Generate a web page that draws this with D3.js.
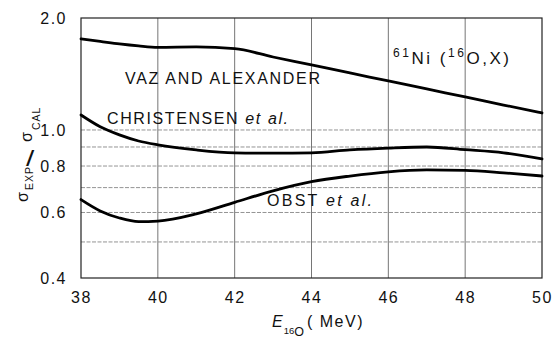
<!DOCTYPE html>
<html><head><meta charset="utf-8">
<script src="https://cdn.jsdelivr.net/npm/d3@7"></script>
<style>body{margin:0;background:#fff} svg{display:block}</style>
</head><body>
<script>
// ---- data ----
const energies = [38, 38.5, 39, 39.5, 40, 41, 42, 43, 44, 45, 46, 47, 48, 49, 50];
const vazValues = [1.757, 1.730, 1.703, 1.682, 1.668, 1.672, 1.655, 1.571, 1.496, 1.423, 1.355, 1.289, 1.227, 1.167, 1.111];
const christensenValues = [1.097, 1.020, 0.970, 0.934, 0.912, 0.884, 0.868, 0.866, 0.868, 0.884, 0.894, 0.900, 0.885, 0.868, 0.836];
const obstValues = [0.650, 0.606, 0.580, 0.567, 0.569, 0.595, 0.639, 0.686, 0.726, 0.752, 0.772, 0.781, 0.779, 0.767, 0.752];
const xTicks = [38, 40, 42, 44, 46, 48, 50];
const xGrid = [40, 42, 44, 46, 48];
const yTicks = [0.4, 0.6, 0.8, 1.0, 2.0];
const yGrid = [0.5, 0.6, 0.7, 0.8, 0.9, 1.0];

const W = 552, H = 338;
const margin = {left: 81, right: 10, top: 18, bottom: 60};
const FONT = "'Liberation Sans', Arial, Helvetica, sans-serif";

const svg = d3.select("body").append("svg").attr("width", W).attr("height", H)
  .style("font-family", FONT);

const x = d3.scaleLinear().domain([38, 50]).range([margin.left, W - margin.right]);
const y = d3.scaleLog().domain([0.4, 2.0]).range([H - margin.bottom, margin.top]);

// grid
svg.append("g").selectAll("line").data(xGrid).join("line")
  .attr("x1", d => x(d)).attr("x2", d => x(d))
  .attr("y1", y(2.0)).attr("y2", y(0.4))
  .attr("stroke", "#666").attr("stroke-width", 0.9);
svg.append("g").selectAll("line").data(yGrid).join("line")
  .attr("x1", x(38)).attr("x2", x(50))
  .attr("y1", d => y(d)).attr("y2", d => y(d))
  .attr("stroke", "#888").attr("stroke-width", 0.9).attr("stroke-dasharray", "4,1.5");

// frame
svg.append("rect").attr("x", x(38)).attr("y", y(2.0))
  .attr("width", x(50) - x(38)).attr("height", y(0.4) - y(2.0))
  .attr("fill", "none").attr("stroke", "#222").attr("stroke-width", 1.2);

// axes
const yAxis = svg.append("g").attr("transform", `translate(${x(38)},0)`)
  .call(d3.axisLeft(y).tickValues(yTicks).tickSize(0).tickPadding(14).tickFormat(d3.format(".1f")));
const xAxis = svg.append("g").attr("transform", `translate(0,${y(0.4)})`)
  .call(d3.axisBottom(x).tickValues(xTicks).tickSize(0).tickPadding(14).tickFormat(d3.format("d")));
[yAxis, xAxis].forEach(a => {
  a.select(".domain").remove();
  a.selectAll("text").attr("font-size", 16).attr("fill", "#111")
    .style("font-family", FONT).style("letter-spacing", "1.5px");
});

// curves
const line = d3.line().x((d, i) => x(energies[i])).y(d => y(d)).curve(d3.curveMonotoneX);
[vazValues, christensenValues, obstValues].forEach(vals => {
  svg.append("path").datum(vals).attr("d", line)
    .attr("fill", "none").attr("stroke", "#000").attr("stroke-width", 2.8)
    .attr("stroke-linejoin", "round").attr("stroke-linecap", "round");
});

// curve labels
const lab = (px, py, len) => svg.append("text").attr("x", px).attr("y", py)
  .attr("font-size", 16).attr("fill", "#111")
  .attr("textLength", len).attr("lengthAdjust", "spacing");
lab(125, 84, 195).text("VAZ AND ALEXANDER");
const c = lab(107, 124, 181);
c.append("tspan").text("CHRISTENSEN ");
c.append("tspan").attr("font-style", "italic").text("et al.");
const o = lab(267, 206, 105);
o.append("tspan").text("OBST ");
o.append("tspan").attr("font-style", "italic").text("et al.");

// reaction title
const t = svg.append("text").attr("x", 393).attr("y", 64).attr("fill", "#111")
  .attr("font-size", 17).attr("textLength", 116).attr("lengthAdjust", "spacing");
t.append("tspan").attr("font-size", 12).attr("dy", -7).text("61");
t.append("tspan").attr("dy", 7).text("Ni (");
t.append("tspan").attr("font-size", 12).attr("dy", -7).text("16");
t.append("tspan").attr("dy", 7).text("O,X)");

// y label (rotated)
const yl = svg.append("g").attr("transform", "translate(0,155) rotate(-90)");
const ylt = yl.append("text").attr("fill", "#111");
ylt.append("tspan").attr("x", -47).attr("y", 28).attr("font-size", 16).text("σ");
ylt.append("tspan").attr("x", -35).attr("y", 33).attr("font-size", 10.5).style("letter-spacing", "1px").text("EXP");
ylt.append("tspan").attr("x", 13).attr("y", 32).attr("font-size", 16).text("σ");
ylt.append("tspan").attr("x", 25).attr("y", 40).attr("font-size", 10.5).style("letter-spacing", "1px").text("CAL");
svg.append("text").attr("transform", "translate(26,166) scale(1.35,1)")
  .attr("font-size", 22).attr("fill", "#111").text("/");

// x label
const xl = svg.append("text").attr("x", 272).attr("y", 327).attr("fill", "#111").attr("font-size", 16);
xl.append("tspan").attr("font-style", "italic").text("E");
xl.append("tspan").attr("font-size", 9.5).attr("dy", 7).attr("dx", 1).text("16");
xl.append("tspan").attr("font-size", 12.5).attr("dy", 2).text("O");
xl.append("tspan").attr("dy", -9).attr("dx", 3).style("letter-spacing", "1.5px").text("( MeV)");
</script>
</body></html>
